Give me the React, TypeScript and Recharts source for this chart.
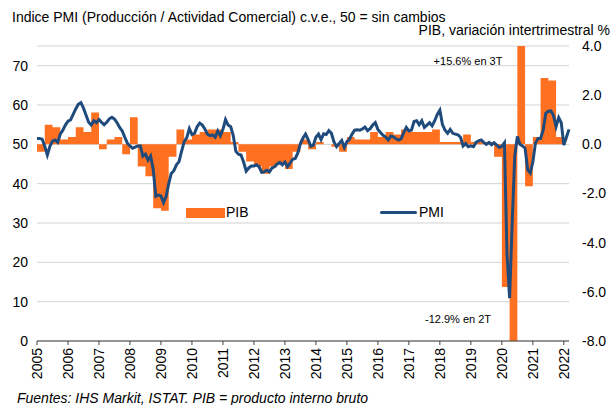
import {
  Area,
  CartesianGrid,
  ComposedChart,
  Legend,
  Line,
  XAxis,
  YAxis,
} from "recharts";

const FIRST_YEAR = 2005;

// PMI compuesto (producción / actividad comercial), mensual, ene-2005 … mar-2022
const pmiValues = [
  51.5, 51.5, 51.3, 49.5, 47.3, 49.5, 50.8, 51.1, 50.5, 52.6, 53.6, 54.9, // 2005
  55.9, 56.2, 57.6, 59.0, 60.2, 60.6, 59.2, 57.4, 55.6, 54.9, 56.0, 55.5, // 2006
  56.3, 55.6, 55.0, 55.6, 56.5, 56.9, 56.4, 55.5, 54.3, 53.4, 51.8, 50.3, // 2007
  49.6, 49.0, 49.3, 49.6, 49.6, 47.0, 47.5, 46.0, 47.0, 43.7, 36.8, 37.1, // 2008
  36.9, 35.2, 36.8, 40.0, 42.6, 43.3, 44.8, 45.6, 48.3, 50.7, 51.7, 54.0, // 2009
  52.5, 52.8, 54.5, 55.4, 54.9, 53.9, 52.6, 52.2, 52.4, 51.8, 53.4, 52.2, // 2010
  53.8, 56.3, 54.9, 54.5, 52.2, 48.2, 47.5, 47.3, 45.5, 43.2, 44.0, 44.5, // 2011
  44.5, 44.8, 44.3, 42.9, 43.0, 43.4, 43.0, 44.0, 44.3, 45.0, 45.4, 44.8, // 2012
  45.5, 44.3, 45.2, 46.2, 46.4, 47.8, 50.2, 51.6, 52.6, 51.2, 49.5, 49.8, // 2013
  51.8, 52.6, 51.2, 52.7, 52.5, 53.5, 52.8, 50.6, 49.4, 50.2, 51.0, 49.2, // 2014
  50.7, 51.3, 52.6, 53.6, 53.7, 53.6, 53.9, 54.4, 53.5, 54.0, 54.9, 55.5, // 2015
  53.8, 53.0, 52.3, 51.9, 51.1, 52.1, 51.9, 51.4, 51.1, 51.4, 53.0, 54.3, // 2016
  53.4, 53.6, 55.8, 56.0, 55.0, 56.0, 54.3, 54.9, 55.5, 54.7, 56.0, 57.6, // 2017
  58.7, 55.0, 53.6, 52.8, 53.8, 52.8, 52.6, 52.4, 51.8, 49.6, 50.2, 49.4, // 2018
  49.6, 49.4, 50.5, 50.9, 51.1, 50.5, 50.0, 50.5, 49.9, 50.4, 49.8, 49.2, // 2019
  49.5, 50.4, 22.0, 10.9, 30.0, 47.0, 52.0, 50.0, 49.6, 49.0, 43.5, 42.7, // 2020
  45.5, 50.3, 51.5, 51.5, 53.6, 57.9, 58.4, 58.5, 57.3, 54.5, 56.8, 55.5, // 2021
  49.8, 51.8, 53.8, // 2022
];

// PIB, variación intertrimestral %, 1T-2005 … 4T-2021
const gdpValues = [
  -0.3, 0.8, 0.7, 0.2, // 2005
  0.3, 0.7, 0.5, 1.3, // 2006
  -0.2, 0.2, 0.3, -0.4, // 2007
  1.1, -0.9, -1.3, -2.6, // 2008
  -2.7, -0.5, 0.6, 0.2, // 2009
  0.4, 0.5, 0.6, 0.6, // 2010
  0.5, 0.1, -0.3, -0.7, // 2011
  -0.9, -1.2, -0.9, -0.8, // 2012
  -1.0, -0.3, 0.2, -0.2, // 2013
  0.1, 0.0, -0.1, -0.3, // 2014
  0.3, 0.2, 0.2, 0.5, // 2015
  0.3, 0.5, 0.4, 0.6, // 2016
  0.5, 0.5, 0.5, 0.6, // 2017
  0.1, 0.1, 0.1, 0.4, // 2018
  0.1, 0.1, 0.1, -0.5, // 2019
  -5.8, -12.9, 15.6, -1.7, // 2020
  0.3, 2.7, 2.6, 0.3, // 2021
];

const yearTicks = [
  2005, 2006, 2007, 2008, 2009, 2010, 2011, 2012, 2013, 2014, 2015, 2016,
  2017, 2018, 2019, 2020, 2021, 2022,
];
const pmiTicks = [0, 10, 20, 30, 40, 50, 60, 70];
const gdpTicks = [-8, -6, -4, -2, 0, 2, 4];

const pmiRows = pmiValues.map((pmi, i) => ({ t: FIRST_YEAR + i / 12, pmi }));
// each quarter is held flat until the next one starts; the closing row ends the last quarter
const gdpRows = [
  ...gdpValues.map((gdp, q) => ({ t: FIRST_YEAR + q / 4, gdp })),
  {
    t: FIRST_YEAR + gdpValues.length / 4,
    gdp: gdpValues[gdpValues.length - 1],
  },
];
const X_MAX = FIRST_YEAR + (pmiValues.length - 1) / 12;

const FONT = '"Liberation Sans", Arial, sans-serif';
const ORANGE = "#FF7020";
const NAVY = "#1F4A7C";

function YearTick({ x, y, payload }: any) {
  const ty = y + 1;
  return (
    <text
      x={x}
      y={ty}
      transform={`rotate(-90, ${x}, ${ty})`}
      textAnchor="end"
      dy="0.35em"
      fontSize={14}
      fontFamily={FONT}
      fill="#000"
    >
      {payload.value}
    </text>
  );
}

function LegendContent() {
  return (
    <div
      style={{
        position: "relative",
        width: 270,
        height: 20,
        fontFamily: FONT,
        fontSize: 14,
        color: "#000",
      }}
    >
      <span
        style={{
          position: "absolute",
          left: 1,
          top: 5,
          width: 39,
          height: 10,
          background: ORANGE,
        }}
      />
      <span style={{ position: "absolute", left: 41, top: 0, lineHeight: "18px" }}>
        PIB
      </span>
      <span
        style={{
          position: "absolute",
          left: 195,
          top: 8,
          width: 37,
          height: 3,
          borderRadius: 2,
          background: NAVY,
        }}
      />
      <span style={{ position: "absolute", left: 234, top: 0, lineHeight: "18px" }}>
        PMI
      </span>
    </div>
  );
}

const textBase = {
  position: "absolute" as const,
  fontFamily: FONT,
  color: "#000",
  whiteSpace: "nowrap" as const,
};

export default function App() {
  return (
    <div
      style={{
        position: "relative",
        width: 612,
        height: 405,
        background: "#fff",
        overflow: "hidden",
      }}
    >
      <style>{"body{margin:0}"}</style>
      <ComposedChart
        width={612}
        height={405}
        margin={{ top: 46, right: 0, bottom: 24, left: 0 }}
      >
        <CartesianGrid
          yAxisId="pmi"
          vertical={false}
          stroke="#d3d3d3"
          strokeWidth={1}
        />
        <XAxis
          type="number"
          dataKey="t"
          domain={[FIRST_YEAR, X_MAX]}
          ticks={yearTicks}
          interval={0}
          height={40}
          tickSize={4}
          stroke="#404040"
          tick={<YearTick />}
        />
        <YAxis
          yAxisId="pmi"
          orientation="left"
          width={37}
          domain={[0, 75]}
          ticks={pmiTicks}
          interval={0}
          axisLine={false}
          tickLine={false}
          tickMargin={3}
          tick={{ fontSize: 14, fontFamily: FONT, fill: "#000" }}
        />
        <YAxis
          yAxisId="gdp"
          orientation="right"
          width={43}
          domain={[-8, 4]}
          ticks={gdpTicks}
          interval={0}
          allowDataOverflow
          axisLine={false}
          tickLine={false}
          tickMargin={7}
          tickFormatter={(v: number) => v.toFixed(1)}
          tick={{ fontSize: 14, fontFamily: FONT, fill: "#000" }}
        />
        <Area
          yAxisId="gdp"
          data={gdpRows}
          dataKey="gdp"
          name="PIB"
          type="stepAfter"
          baseValue={0}
          stroke="none"
          fill={ORANGE}
          fillOpacity={1}
          activeDot={false}
          isAnimationActive={false}
        />
        <Line
          yAxisId="pmi"
          data={pmiRows}
          dataKey="pmi"
          name="PMI"
          stroke={NAVY}
          strokeWidth={3}
          dot={false}
          activeDot={false}
          isAnimationActive={false}
        />
        <Legend
          layout="vertical"
          align="center"
          verticalAlign="middle"
          wrapperStyle={{ left: 185, top: 203, width: 270, height: 20 }}
          content={() => <LegendContent />}
        />
      </ComposedChart>

      <div style={{ ...textBase, left: 12, top: 10, fontSize: 14, lineHeight: "15px" }}>
        Indice PMI (Producción / Actividad Comercial) c.v.e., 50 = sin cambios
      </div>
      <div style={{ ...textBase, right: 2, top: 24, fontSize: 14, lineHeight: "13px" }}>
        PIB, variación intertrimestral %
      </div>
      <div
        style={{
          ...textBase,
          left: 468,
          top: 55,
          fontSize: 11,
          lineHeight: "13px",
          transform: "translateX(-50%)",
        }}
      >
        +15.6% en 3T
      </div>
      <div
        style={{
          ...textBase,
          left: 458,
          top: 313,
          fontSize: 11,
          lineHeight: "13px",
          transform: "translateX(-50%)",
        }}
      >
        -12.9% en 2T
      </div>
      <div
        style={{
          ...textBase,
          left: 17,
          top: 391,
          fontSize: 14,
          lineHeight: "15px",
          fontStyle: "italic",
        }}
      >
        Fuentes: IHS Markit, ISTAT. PIB = producto interno bruto
      </div>
    </div>
  );
}
